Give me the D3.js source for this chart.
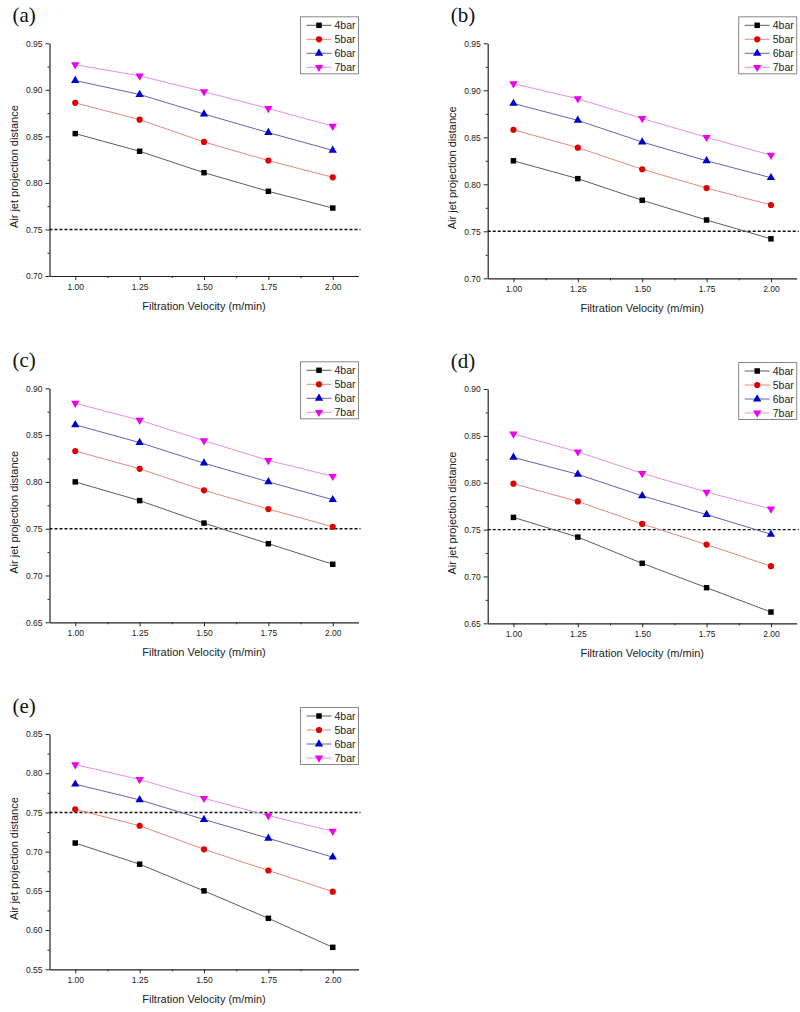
<!DOCTYPE html>
<html>
<head>
<meta charset="utf-8">
<script src="https://cdn.jsdelivr.net/npm/d3@7"></script>
<style>
  body { margin: 0; background: #fff; }
  text { font-family: "Liberation Sans", Arial, sans-serif; }
</style>
</head>
<body>
<div id="chart"></div>
<script>
// Data
var velocity = [1.00, 1.25, 1.50, 1.75, 2.00];
var seriesNames = ["4bar", "5bar", "6bar", "7bar"];
var panelLabels = ["(a)", "(b)", "(c)", "(d)", "(e)"];
var threshold = 0.75;

// one row per series (4bar..7bar)
var valuesA = [
  [0.853, 0.834, 0.811, 0.791, 0.773],
  [0.886, 0.868, 0.844, 0.824, 0.806],
  [0.910, 0.895, 0.874, 0.854, 0.835],
  [0.927, 0.915, 0.898, 0.880, 0.861]
];
var valuesB = [
  [0.825, 0.806, 0.783, 0.762, 0.742],
  [0.858, 0.839, 0.816, 0.796, 0.778],
  [0.886, 0.868, 0.845, 0.825, 0.807],
  [0.907, 0.891, 0.870, 0.850, 0.831]
];
var valuesC = [
  [0.800, 0.780, 0.756, 0.734, 0.712],
  [0.833, 0.814, 0.791, 0.771, 0.752],
  [0.861, 0.842, 0.820, 0.800, 0.781],
  [0.884, 0.866, 0.844, 0.823, 0.806]
];
var valuesD = [
  [0.763, 0.742, 0.714, 0.688, 0.662],
  [0.799, 0.780, 0.756, 0.734, 0.711],
  [0.827, 0.809, 0.786, 0.766, 0.745],
  [0.852, 0.833, 0.810, 0.790, 0.772]
];
var valuesE = [
  [0.711, 0.684, 0.650, 0.615, 0.578],
  [0.754, 0.733, 0.703, 0.676, 0.649],
  [0.786, 0.766, 0.741, 0.717, 0.693],
  [0.811, 0.792, 0.768, 0.746, 0.726]
];
var yRanges = [[0.70, 0.95], [0.70, 0.95], [0.65, 0.90], [0.65, 0.90], [0.55, 0.85]];

var allValues = [valuesA, valuesB, valuesC, valuesD, valuesE];

// Styles
var lineColors = ["#5c5c5c", "#e48a80", "#6464ac", "#e690e6"];
var markColors = ["#000000", "#e00000", "#0000cc", "#ee00ee"];
var symbols = [d3.symbolSquare, d3.symbolCircle, d3.symbolTriangle, d3.symbolTriangle];
var symSizes = [30, 30, 30, 30];
var symRotate = [0, 0, 0, 180];

// Panel positions (axis left x, y of top tick, y of bottom tick)
var layout = [
  { x0: 49.5, top: 43.3, bot: 276.0 },
  { x0: 487.7, top: 43.3, bot: 278.3 },
  { x0: 49.5, top: 388.3, bot: 622.3 },
  { x0: 487.7, top: 389.0, bot: 623.3 },
  { x0: 49.5, top: 734.0, bot: 969.3 }
];
var unitWidth = 257.5;   // px per 1 m/min

var svg = d3.select("#chart").append("svg")
  .attr("width", 800)
  .attr("height", 1012)
  .style("background", "#fff");

allValues.forEach(function(vals, p) {
  var L = layout[p];
  var xRight = L.x0 + 1.2 * unitWidth;
  var x = d3.scaleLinear().domain([0.9, 2.1]).range([L.x0, xRight]);
  var y = d3.scaleLinear().domain(yRanges[p]).range([L.bot, L.top]);

  var g = svg.append("g").attr("class", "panel");

  var yMajor = d3.range(yRanges[p][0], yRanges[p][1] + 1e-9, 0.05);
  var yMinor = yMajor.slice(0, -1).map(function(d) { return d + 0.025; });
  var xMinor = velocity.slice(0, -1).map(function(d) { return d + 0.125; });

  // y axis
  g.append("g").attr("transform", "translate(" + L.x0 + ",0)")
    .call(d3.axisLeft(y).tickValues(yMajor).tickFormat(d3.format(".2f"))
      .tickSize(4).tickSizeOuter(0).tickPadding(3));
  g.append("g").attr("transform", "translate(" + L.x0 + ",0)")
    .call(d3.axisLeft(y).tickValues(yMinor).tickFormat("").tickSize(2).tickSizeOuter(0))
    .select(".domain").remove();

  // x axis
  g.append("g").attr("transform", "translate(0," + L.bot + ")")
    .call(d3.axisBottom(x).tickValues(velocity).tickFormat(d3.format(".2f"))
      .tickSize(4).tickSizeOuter(0).tickPadding(4));
  g.append("g").attr("transform", "translate(0," + L.bot + ")")
    .call(d3.axisBottom(x).tickValues(xMinor).tickFormat("").tickSize(2).tickSizeOuter(0))
    .select(".domain").remove();

  g.selectAll(".domain").attr("stroke", "#222").attr("stroke-width", 1.2);
  g.selectAll(".tick line").attr("stroke", "#222");
  g.selectAll(".tick text").attr("font-size", 8.5).attr("fill", "#222")
    .style("font-family", "'Liberation Sans', Arial, sans-serif");

  // threshold line
  g.append("line")
    .attr("x1", L.x0).attr("x2", xRight + 2)
    .attr("y1", y(threshold)).attr("y2", y(threshold))
    .attr("stroke", "#111").attr("stroke-width", 1.4)
    .attr("stroke-dasharray", "3,2");

  // series
  var line = d3.line()
    .x(function(d, i) { return x(velocity[i]); })
    .y(function(d) { return y(d); });

  vals.forEach(function(s, k) {
    g.append("path")
      .attr("d", line(s))
      .attr("fill", "none")
      .attr("stroke", lineColors[k])
      .attr("stroke-width", 1);
    g.selectAll(".m" + k)
      .data(s)
      .enter()
      .append("path")
      .attr("class", "m" + k)
      .attr("d", d3.symbol().type(symbols[k]).size(symSizes[k]))
      .attr("transform", function(d, i) {
        return "translate(" + x(velocity[i]) + "," + y(d) + ") rotate(" + symRotate[k] + ")";
      })
      .attr("fill", markColors[k]);
  });

  // axis titles
  g.append("text")
    .attr("x", (L.x0 + xRight) / 2)
    .attr("y", L.bot + 34)
    .attr("text-anchor", "middle")
    .attr("font-size", 11)
    .attr("fill", "#222")
    .text("Filtration Velocity (m/min)");
  g.append("text")
    .attr("transform", "translate(" + (L.x0 - 32) + "," + ((L.top + L.bot) / 2 + 7) + ") rotate(-90)")
    .attr("text-anchor", "middle")
    .attr("font-size", 11)
    .attr("fill", "#222")
    .text("Air jet projection distance");

  // panel label
  g.append("text")
    .attr("x", L.x0 - 37)
    .attr("y", L.top - 21)
    .style("font-family", "'Liberation Serif', 'DejaVu Serif', serif")
    .attr("font-size", 21)
    .attr("fill", "#111")
    .text(panelLabels[p]);

  // legend
  var lx = xRight - 58, ly = L.top - 26.5;
  var leg = g.append("g").attr("transform", "translate(" + lx + "," + ly + ")");
  leg.append("rect")
    .attr("width", 58).attr("height", 57)
    .attr("fill", "#fff").attr("stroke", "#888").attr("stroke-width", 1);
  var rows = leg.selectAll("g.row")
    .data(seriesNames)
    .enter()
    .append("g")
    .attr("class", "row")
    .attr("transform", function(d, i) { return "translate(0," + (8.5 + 14 * i) + ")"; });
  rows.append("line")
    .attr("x1", 6).attr("x2", 31)
    .attr("stroke", function(d, i) { return lineColors[i]; })
    .attr("stroke-width", 1);
  rows.append("path")
    .attr("d", function(d, i) { return d3.symbol().type(symbols[i]).size(symSizes[i])(); })
    .attr("transform", function(d, i) { return "translate(18.5,0) rotate(" + symRotate[i] + ")"; })
    .attr("fill", function(d, i) { return markColors[i]; });
  rows.append("text")
    .attr("x", 34).attr("y", 3.8)
    .attr("font-size", 10.5)
    .attr("fill", "#222")
    .text(function(d) { return d; });
});
</script>
</body>
</html>
